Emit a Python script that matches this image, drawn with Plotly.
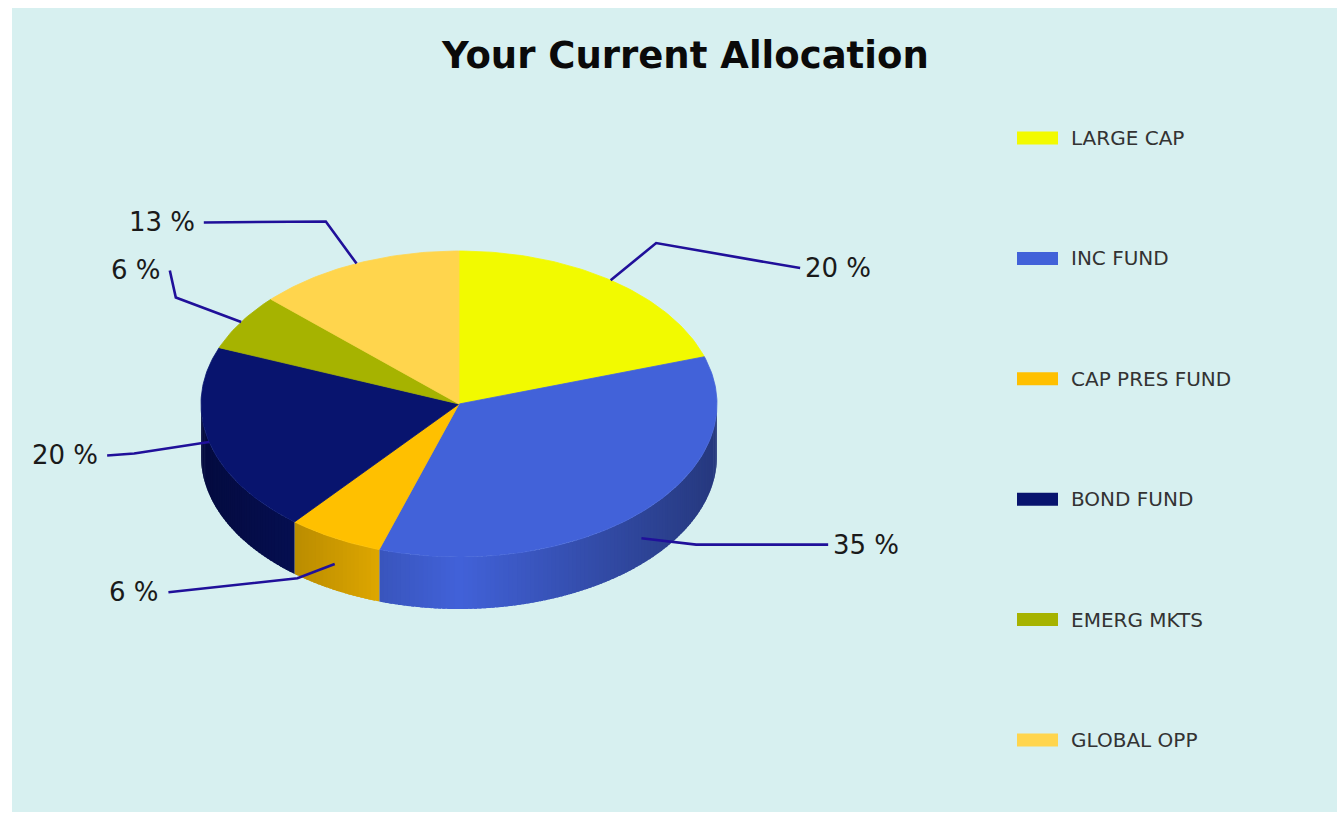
import numpy as np
import plotly.graph_objects as go

# ---- data -------------------------------------------------------------
CATEGORIES = ["LARGE CAP", "INC FUND", "CAP PRES FUND", "BOND FUND", "EMERG MKTS", "GLOBAL OPP"]
SHARES = [20, 35, 6, 20, 6, 13]
COLORS = ["#F2FA00", "#4262D9", "#FFC000", "#08146E", "#A6B300", "#FFD54D"]

# ---- layout constants (pixel space) ----------------------------------
W, H = 1337, 813
CX, CY = 459, 404          # centre of the top face
RX, RY = 258, 153          # radii of the top ellipse
DEPTH = 52                 # thickness of the disc
ELBOW_K = 1.3              # radial factor for the leader-line elbow
# tail of each leader line (dx, dy) after the elbow
LEADER_TAIL = [(144, 25), (132, 0), (-129, 14), (-27, 2), (-6, -27), (-122, 1)]
LINE_COLOR = "#20109A"
BG_PANEL = "#D7F0F0"


def ell(theta_deg, k=1.0, dy=0.0):
    t = np.radians(theta_deg)
    return CX + k * RX * np.cos(t), CY - k * RY * np.sin(t) + dy


def shade(hex_color, f):
    h = hex_color.lstrip("#")
    r, g, b = (int(h[i:i + 2], 16) for i in (0, 2, 4))
    return "rgb({},{},{})".format(*(int(max(0, min(255, c * f))) for c in (r, g, b)))


total = float(sum(SHARES))
starts, ends = [], []
a = 90.0
for v in SHARES:
    starts.append(a)
    a -= 360.0 * v / total
    ends.append(a)

fig = go.Figure()

# ---- side walls (only the front half is visible) ---------------------
# each strip overlaps the next one a little so no seams show
for i in range(len(SHARES)):
    lo, hi = max(ends[i], -180.0), min(starts[i], 0.0)
    if lo >= hi:
        continue
    edges = np.linspace(hi, lo, int(np.ceil(hi - lo)) + 1)
    for j, (a0, a1) in enumerate(zip(edges[:-1], edges[1:])):
        mid = 0.5 * (a0 + a1)
        f = 1.0 - 0.42 * abs(np.cos(np.radians(mid)))
        col = shade(COLORS[i], f)
        a1x = a1 - 0.7 if j < len(edges) - 2 else a1
        arc = np.linspace(a0, a1x, 4)
        xt, yt = ell(arc)
        xs = list(xt) + list(xt[::-1])
        ys = list(yt) + list((yt + DEPTH)[::-1])
        fig.add_trace(go.Scatter(
            x=xs, y=ys, fill="toself", fillcolor=col, mode="none",
            hoverinfo="skip", showlegend=False))

# ---- top faces --------------------------------------------------------
for i, (name, v) in enumerate(zip(CATEGORIES, SHARES)):
    n = max(3, int(abs(starts[i] - ends[i])) + 1)
    arc = np.linspace(starts[i], ends[i], n)
    xa, ya = ell(arc)
    fig.add_trace(go.Scatter(
        x=[CX] + list(xa) + [CX], y=[CY] + list(ya) + [CY],
        fill="toself", fillcolor=COLORS[i], mode="lines",
        line=dict(color=COLORS[i], width=0.8), name=name,
        hovertemplate=f"{name}: {v} %<extra></extra>", showlegend=False))

# ---- leader lines and value labels -----------------------------------
annotations = []
for i, v in enumerate(SHARES):
    mid = 0.5 * (starts[i] + ends[i])
    s = np.sin(np.radians(mid))
    ax, ay = ell(mid, 1.0, DEPTH / 2 if s < -0.5 else 0.0)
    ex, ey = ell(mid, ELBOW_K)
    tx, ty = ex + LEADER_TAIL[i][0], ey + LEADER_TAIL[i][1]
    fig.add_trace(go.Scatter(
        x=[ax, ex, tx], y=[ay, ey, ty], mode="lines",
        line=dict(color=LINE_COLOR, width=2.6), hoverinfo="skip", showlegend=False))
    right = LEADER_TAIL[i][0] > 0
    annotations.append(dict(
        x=tx + (3 if right else -7), y=ty, xref="x", yref="y",
        text=f"{v} %", showarrow=False, xanchor="left" if right else "right",
        yanchor="middle", font=dict(family="DejaVu Sans", size=26, color="#1A1A1A")))

# ---- legend (drawn on the right) -------------------------------------
shapes = [dict(type="rect", xref="x", yref="y", x0=12, x1=W, y0=8, y1=812,
               fillcolor=BG_PANEL, line=dict(width=0), layer="below")]
for i, name in enumerate(CATEGORIES):
    yc = 138 + i * 120.4
    shapes.append(dict(type="rect", xref="x", yref="y", x0=1017, x1=1058,
                       y0=yc - 6.5, y1=yc + 6.5, fillcolor=COLORS[i],
                       line=dict(width=0), layer="above"))
    annotations.append(dict(
        x=1069, y=yc, xref="x", yref="y", text=name, showarrow=False,
        xanchor="left", yanchor="middle",
        font=dict(family="DejaVu Sans", size=20, color="#333333")))

annotations.append(dict(
    x=685, y=55, xref="x", yref="y", text="<b>Your Current Allocation</b>",
    showarrow=False, xanchor="center", yanchor="middle",
    font=dict(family="DejaVu Sans", size=37, color="#0A0A0A")))

fig.update_layout(
    width=W, height=H, autosize=False,
    margin=dict(l=0, r=0, t=0, b=0, pad=0),
    paper_bgcolor="white", plot_bgcolor="white",
    xaxis=dict(range=[0, W], visible=False, fixedrange=True),
    yaxis=dict(range=[H, 0], visible=False, fixedrange=True),
    shapes=shapes, annotations=annotations, showlegend=False,
)

fig.write_html("out.html")
